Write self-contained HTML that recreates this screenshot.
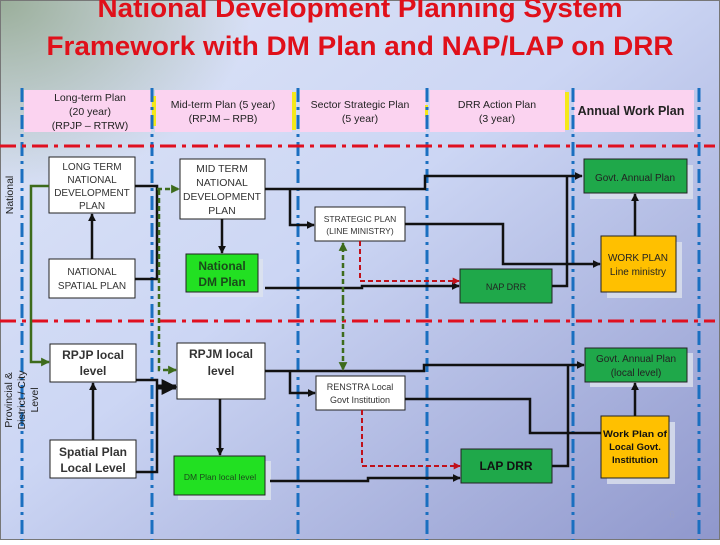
<!DOCTYPE html>
<html><head><meta charset="utf-8"><style>
html,body{margin:0;padding:0}
body{width:720px;height:540px;overflow:hidden;font-family:"Liberation Sans",sans-serif}
svg text{font-family:"Liberation Sans",sans-serif}
</style></head><body>
<svg width="720" height="540" viewBox="0 0 720 540" xmlns="http://www.w3.org/2000/svg">
<defs>
<linearGradient id="bg" x1="0" y1="0" x2="1" y2="1">
<stop offset="0" stop-color="#dfe6f7"/><stop offset="0.45" stop-color="#ccd6f4"/><stop offset="1" stop-color="#8f97cc"/>
</linearGradient>
<radialGradient id="gr" cx="0" cy="0" r="0.35"><stop offset="0" stop-color="#9aae9a"/><stop offset="1" stop-color="#9aae9a" stop-opacity="0"/></radialGradient>
<marker id="a" viewBox="0 0 10 10" refX="9" refY="5" markerWidth="3.2" markerHeight="3.2" orient="auto"><path d="M0,0L10,5L0,10z" fill="#111"/></marker>
<marker id="ag" viewBox="0 0 10 10" refX="9" refY="5" markerWidth="3.5" markerHeight="3.5" orient="auto"><path d="M0,0L10,5L0,10z" fill="#3d6b1c"/></marker>
<marker id="ar" viewBox="0 0 10 10" refX="9" refY="5" markerWidth="3.5" markerHeight="3.5" orient="auto"><path d="M0,0L10,5L0,10z" fill="#c0101a"/></marker>
</defs>
<rect width="720" height="540" fill="url(#bg)"/>
<rect width="720" height="540" fill="url(#gr)"/>
<rect x="0.5" y="0.5" width="719" height="539" fill="none" stroke="#777" stroke-width="1"/>
<text x="360" y="17" text-anchor="middle" font-size="27" font-weight="bold" fill="#e0101a" textLength="525" lengthAdjust="spacingAndGlyphs">National Development Planning System</text>
<text x="360" y="55" text-anchor="middle" font-size="27" font-weight="bold" fill="#e0101a" textLength="627" lengthAdjust="spacingAndGlyphs">Framework with DM Plan and NAP/LAP on DRR</text>
<g fill="#fbd3f0">
<rect x="24" y="90" width="127" height="42"/><rect x="155" y="90" width="137" height="42"/>
<rect x="300" y="90" width="126" height="42"/><rect x="430" y="90" width="135" height="42"/>
<rect x="574" y="90" width="120" height="42"/></g>
<g fill="#f5e81a"><rect x="292" y="92" width="4" height="38"/><rect x="425" y="105" width="3" height="12"/><rect x="565" y="92" width="4" height="38"/><rect x="152" y="96" width="4" height="30"/></g>
<g font-size="10.5" fill="#222" text-anchor="middle">
<text x="90" y="101">Long-term Plan</text><text x="90" y="115">(20 year)</text><text x="90" y="129">(RPJP – RTRW)</text>
<text x="223" y="108">Mid-term Plan  (5 year)</text><text x="223" y="122">(RPJM – RPB)</text>
<text x="360" y="108">Sector Strategic Plan</text><text x="360" y="122">(5 year)</text>
<text x="497" y="108">DRR Action Plan</text><text x="497" y="122">(3 year)</text>
<text x="631" y="115" font-size="12.5" font-weight="bold">Annual Work Plan</text>
</g>
<g stroke="#1a6fc0" stroke-width="3" stroke-dasharray="14,5,3,5" fill="none">
<line x1="22" y1="88" x2="22" y2="540"/><line x1="152" y1="88" x2="152" y2="540"/>
<line x1="298" y1="88" x2="298" y2="540"/><line x1="427" y1="88" x2="427" y2="540"/>
<line x1="573" y1="88" x2="573" y2="540"/><line x1="699" y1="88" x2="699" y2="540"/>
</g>
<g stroke="#e01020" stroke-width="3" stroke-dasharray="16,6,4,6"><line x1="0" y1="146" x2="715" y2="146"/><line x1="0" y1="321" x2="715" y2="321"/></g>
<text transform="translate(13,195) rotate(-90)" text-anchor="middle" font-size="10.5" fill="#222">National</text>
<g transform="translate(0,400) rotate(-90)" font-size="10.5" fill="#222" text-anchor="middle">
<text x="0" y="12">Provincial &amp;</text><text x="0" y="25">District / City</text><text x="0" y="38">Level</text></g>
<g fill="#dde3ee" opacity="0.8">
<rect x="190" y="259" width="73" height="38"/><rect x="178" y="461" width="93" height="39"/>
<rect x="590" y="165" width="103" height="34"/><rect x="607" y="242" width="75" height="56"/>
<rect x="590" y="353" width="103" height="34"/><rect x="607" y="422" width="68" height="62"/>
</g>
<g stroke="#222" stroke-width="1">
<rect x="49" y="157" width="86" height="56" fill="#fff"/>
<rect x="49" y="259" width="86" height="39" fill="#fff"/>
<rect x="180" y="159" width="85" height="60" fill="#fff"/>
<rect x="186" y="254" width="72" height="38" fill="#22e022"/>
<rect x="315" y="207" width="90" height="34" fill="#fff"/>
<rect x="460" y="269" width="92" height="34" fill="#1fa84a"/>
<rect x="584" y="159" width="103" height="34" fill="#1fa84a"/>
<rect x="601" y="236" width="75" height="56" fill="#ffc000"/>
<rect x="50" y="344" width="86" height="38" fill="#fff"/>
<rect x="50" y="440" width="86" height="38" fill="#fff"/>
<rect x="177" y="343" width="88" height="56" fill="#fff"/>
<rect x="174" y="456" width="91" height="39" fill="#22e022"/>
<rect x="316" y="376" width="89" height="34" fill="#fff"/>
<rect x="461" y="449" width="91" height="34" fill="#1fa84a"/>
<rect x="585" y="348" width="102" height="34" fill="#1fa84a"/>
<rect x="601" y="416" width="68" height="62" fill="#ffc000"/>
</g>
<g font-size="10" fill="#333" text-anchor="middle">
<text x="92" y="170">LONG TERM</text><text x="92" y="183">NATIONAL</text><text x="92" y="196">DEVELOPMENT</text><text x="92" y="209">PLAN</text>
<text x="92" y="275">NATIONAL</text><text x="92" y="289">SPATIAL PLAN</text>
<text x="222" y="172" font-size="10.5">MID TERM</text><text x="222" y="186" font-size="10.5">NATIONAL</text><text x="222" y="200" font-size="10.5" textLength="78" lengthAdjust="spacingAndGlyphs">DEVELOPMENT</text><text x="222" y="214" font-size="10.5">PLAN</text>
<text x="222" y="270" font-size="12" font-weight="bold" fill="#1a4a1a">National</text><text x="222" y="286" font-size="12" font-weight="bold" fill="#1a4a1a">DM Plan</text>
<text x="360" y="222" font-size="8.5">STRATEGIC PLAN</text><text x="360" y="234" font-size="8.5">(LINE MINISTRY)</text>
<text x="506" y="290" font-size="9" fill="#222">NAP DRR</text>
<text x="635" y="181" font-size="10" fill="#222">Govt. Annual Plan</text>
<text x="638" y="261" font-size="10" fill="#222">WORK PLAN</text><text x="638" y="275" font-size="10" fill="#222">Line ministry</text>
<text x="93" y="359" font-size="12" font-weight="bold">RPJP local</text><text x="93" y="375" font-size="12" font-weight="bold">level</text>
<text x="93" y="456" font-size="12" font-weight="bold">Spatial Plan</text><text x="93" y="472" font-size="12" font-weight="bold">Local Level</text>
<text x="221" y="358" font-size="12" font-weight="bold">RPJM local</text><text x="221" y="375" font-size="12" font-weight="bold">level</text>
<text x="220" y="480" font-size="8.5" fill="#1a4a1a">DM Plan local level</text>
<text x="360" y="390" font-size="9">RENSTRA Local</text><text x="360" y="403" font-size="9">Govt Institution</text>
<text x="506" y="470" font-size="12" font-weight="bold" fill="#111">LAP DRR</text>
<text x="636" y="362" font-size="10" fill="#222">Govt. Annual Plan</text><text x="636" y="376" font-size="10" fill="#222">(local level)</text>
<text x="635" y="437" font-size="9.5" font-weight="bold" fill="#111" textLength="64" lengthAdjust="spacingAndGlyphs">Work Plan of</text><text x="635" y="450" font-size="9.5" font-weight="bold" fill="#111">Local Govt.</text><text x="635" y="463" font-size="9.5" font-weight="bold" fill="#111">Institution</text>
</g>
<text x="672" y="518" font-size="10" fill="#9aa0c8" text-anchor="middle">6</text>
<g stroke="#111" stroke-width="2.5" fill="none">
<polyline points="135,186 157,186 157,279 135,279"/>
<line x1="92" y1="259" x2="92" y2="214" marker-end="url(#a)"/>
<line x1="222" y1="219" x2="222" y2="253" marker-end="url(#a)"/>
<polyline points="265,189 425,189 425,176 582,176" marker-end="url(#a)"/>
<polyline points="290,189 290,225 314,225" marker-end="url(#a)"/>
<polyline points="552,286 567,286 567,176"/>
<polyline points="405,224 503,224 503,264 600,264" marker-end="url(#a)"/>
<polyline points="265,288 362,288 362,286 459,286" marker-end="url(#a)"/>
<line x1="635" y1="236" x2="635" y2="194" marker-end="url(#a)"/>
<polyline points="136,380 157,380 157,472 136,472"/>
<line x1="157" y1="387" x2="176" y2="387" stroke-width="5" marker-end="url(#a)"/>
<line x1="93" y1="440" x2="93" y2="383" marker-end="url(#a)"/>
<polyline points="265,371 424,371 424,365 584,365" marker-end="url(#a)"/>
<polyline points="290,371 290,393 315,393" marker-end="url(#a)"/>
<line x1="220" y1="399" x2="220" y2="455" marker-end="url(#a)"/>
<polyline points="405,399 530,399 530,433 601,433"/>
<polyline points="270,481 368,481 368,478 460,478" marker-end="url(#a)"/>
<polyline points="552,466 568,466 568,365"/>
<line x1="635" y1="416" x2="635" y2="383" marker-end="url(#a)"/>
</g>
<g stroke="#3d6b1c" stroke-width="2.5" fill="none">
<polyline points="49,186 31,186 31,362 49,362" marker-end="url(#ag)"/>
<g stroke-dasharray="5,3">
<polyline points="157,189 179,189" marker-end="url(#ag)"/>
<polyline points="159,190 159,370 176,370" marker-end="url(#ag)"/>
<line x1="343" y1="300" x2="343" y2="243" marker-end="url(#ag)"/>
<line x1="343" y1="300" x2="343" y2="370" marker-end="url(#ag)"/>
</g></g>
<g stroke="#c0101a" stroke-width="2" fill="none" stroke-dasharray="5,3">
<polyline points="360,241 360,281 459,281" marker-end="url(#ar)"/>
<polyline points="362,410 362,466 460,466" marker-end="url(#ar)"/>
</g>
</svg>
</body></html>
